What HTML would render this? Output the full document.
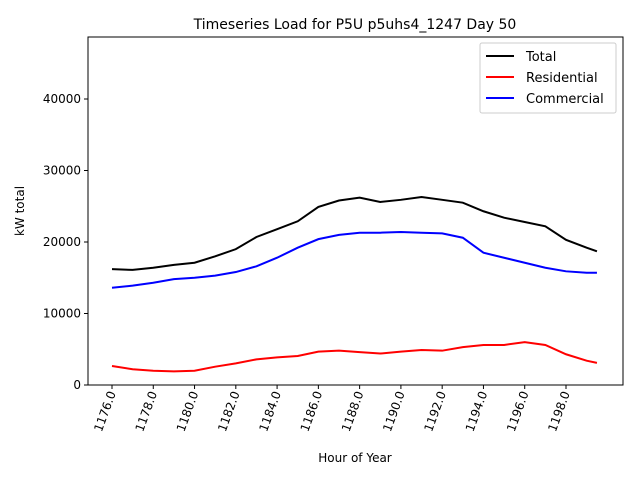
<!DOCTYPE html>
<html><head><meta charset="utf-8"><style>
body{margin:0;background:#fff;}
svg{font-family:"DejaVu Sans","Liberation Sans",sans-serif;}
</style></head><body>
<svg id="chart" width="640" height="480">
<rect width="640" height="480" fill="#fff"/>
<text x="355" y="29" text-anchor="middle" font-size="14">Timeseries Load for P5U p5uhs4_1247  Day 50</text>
<g id="plot"></g>
<text x="355" y="462" text-anchor="middle" font-size="12">Hour of Year</text>
<text x="24" y="211" text-anchor="middle" font-size="12" transform="rotate(-90 24 211)">kW total</text>
<g>
<rect x="480" y="43" width="136" height="70" fill="#fff" stroke="#ccc" rx="2"/>
<line x1="486" y1="56" x2="514" y2="56" stroke="#000" stroke-width="2"/><text x="526" y="61" font-size="13">Total</text>
<line x1="486" y1="77" x2="514" y2="77" stroke="#f00" stroke-width="2"/><text x="526" y="82" font-size="13">Residential</text>
<line x1="486" y1="98" x2="514" y2="98" stroke="#00f" stroke-width="2"/><text x="526" y="103" font-size="13">Commercial</text>
</g>
</svg>
<script>
const hours=[1176,1177,1178,1179,1180,1181,1182,1183,1184,1185,1186,1187,1188,1189,1190,1191,1192,1193,1194,1195,1196,1197,1198,1199,1199.5];
const total=[16200,16100,16400,16800,17100,18000,19000,20700,21800,22900,24900,25800,26200,25600,25900,26300,25900,25500,24300,23400,22800,22200,20300,19200,18700];
const residential=[2660,2200,2000,1900,2000,2560,3030,3590,3870,4060,4660,4800,4600,4400,4660,4900,4800,5300,5600,5600,6000,5600,4300,3400,3100];
const commercial=[13600,13900,14300,14800,15000,15300,15800,16600,17800,19200,20400,21000,21300,21300,21400,21300,21200,20600,18500,17800,17100,16400,15900,15700,15700];
const yTicks=[0,10000,20000,30000,40000];
const xTicks=[1176,1178,1180,1182,1184,1186,1188,1190,1192,1194,1196,1198];
const L=88,R=623,T=37,B=385;
const xs=h=>112+(h-1176)*20.636;
const ys=v=>B-v*0.00715;
const NS='http://www.w3.org/2000/svg';
const g=document.getElementById('plot');
function mk(t,a){const e=document.createElementNS(NS,t);for(const k in a)e.setAttribute(k,a[k]);g.appendChild(e);return e;}
function series(vals,color,name){
 const p=mk('polyline',{points:vals.map((v,i)=>xs(hours[i])+','+ys(v)).join(' '),fill:'none',stroke:color,'stroke-width':2});
 
 
}
series(total,'#000','total-line');
series(residential,'#f00','residential-line');
series(commercial,'#00f','commercial-line');
const fr=mk('rect',{x:L,y:T,width:R-L,height:B-T,fill:'none',stroke:'#000','stroke-width':1});


yTicks.forEach(v=>{
 const y=ys(v);
 mk('line',{x1:L-4,y1:y,x2:L,y2:y,stroke:'#000'});
 const t=mk('text',{x:L-7,y:y+4,'text-anchor':'end','font-size':12});
 t.textContent=v;
 
 
});
xTicks.forEach(h=>{
 const x=xs(h);
 mk('line',{x1:x,y1:B,x2:x,y2:B+4,stroke:'#000'});
 const t=mk('text',{x:x+4,y:B+8,'text-anchor':'end','font-size':12,transform:`rotate(-70 ${x+4} ${B+8})`});
 t.textContent=h.toFixed(1);
 
 
});
</script>
</body></html>
